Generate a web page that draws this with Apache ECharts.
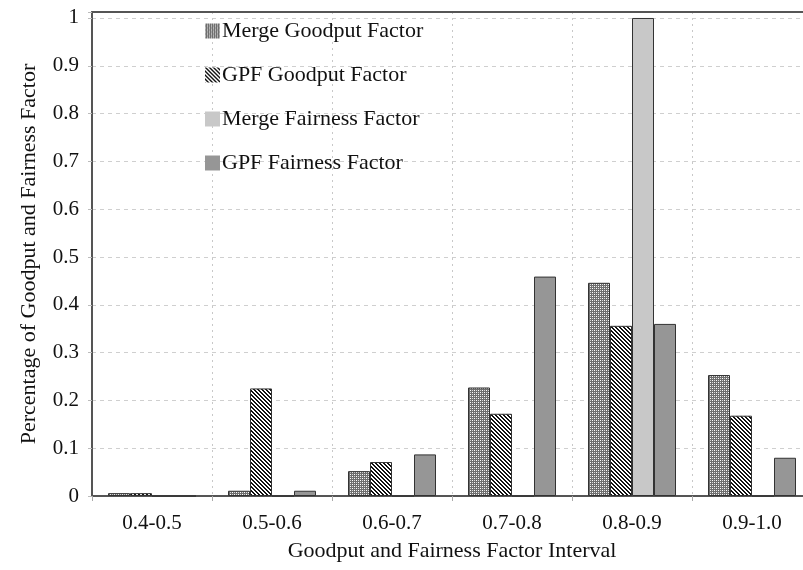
<!DOCTYPE html>
<html>
<head>
<meta charset="utf-8">
<script src="https://cdn.jsdelivr.net/npm/echarts@6/dist/echarts.min.js"></script>
<style>
  html, body { margin: 0; padding: 0; background: #fff; }
  #main { width: 803px; height: 570px; }
</style>
</head>
<body>
<div id="main"></div>
<script>
// 区间
var categories = ['0.4-0.5', '0.5-0.6', '0.6-0.7', '0.7-0.8', '0.8-0.9', '0.9-1.0'];
var mergeGoodput = [0.006, 0.011, 0.052, 0.227, 0.446, 0.253];
var gpfGoodput = [0.006, 0.225, 0.071, 0.172, 0.356, 0.168];
var mergeFairness = [0, 0, 0, 0, 1.0, 0];
var gpfFairness = [0, 0.011, 0.087, 0.459, 0.36, 0.080];
var seriesNames = ['Merge Goodput Factor', 'GPF Goodput Factor', 'Merge Fairness Factor', 'GPF Fairness Factor'];

var fontFamily = '"Liberation Serif", "DejaVu Serif", serif';

// 网格点纹理
function checkPattern() {
  var c = document.createElement('canvas');
  c.width = 4; c.height = 4;
  var ctx = c.getContext('2d');
  ctx.fillStyle = '#6e6e6e';
  ctx.fillRect(0, 0, 4, 4);
  ctx.fillStyle = '#ffffff';
  ctx.fillRect(0, 0, 1, 1);
  ctx.fillRect(2, 2, 1, 1);
  ctx.fillStyle = '#d8d8d8';
  ctx.fillRect(2, 0, 1, 1);
  ctx.fillRect(0, 2, 1, 1);
  return c;
}

// 斜线纹理
function stripePattern() {
  var c = document.createElement('canvas');
  c.width = 4; c.height = 4;
  var ctx = c.getContext('2d');
  ctx.fillStyle = '#ffffff';
  ctx.fillRect(0, 0, 4, 4);
  ctx.fillStyle = '#111111';
  for (var y = 0; y < 4; y++) {
    for (var x = 0; x < 4; x++) {
      var d = ((x - y) % 4 + 4) % 4;
      if (d === 0 || d === 1) ctx.fillRect(x, y, 1, 1);
    }
  }
  return c;
}

var chart = echarts.init(document.getElementById('main'));

var borderStyle = { borderColor: '#333', borderWidth: 1 };

chart.setOption({
  animation: false,
  textStyle: { fontFamily: fontFamily },
  grid: {
    left: 92,
    width: 720, // 右侧被裁掉一截
    top: 12,
    bottom: 74,
    outerBoundsMode: 'none'
  },
  legend: {
    orient: 'vertical',
    left: 200,
    top: 15,
    itemGap: 22,
    itemWidth: 15,
    itemHeight: 15,
    icon: 'rect',
    itemStyle: { borderWidth: 0 },
    textStyle: {
      fontFamily: fontFamily,
      fontSize: 22,
      color: '#111',
      padding: [0, 0, 0, -3]
    },
    data: seriesNames
  },
  xAxis: [
    {
      type: 'category',
      data: categories,
      name: 'Goodput and Fairness Factor Interval',
      nameLocation: 'middle',
      nameGap: 44,
      nameTextStyle: { fontFamily: fontFamily, fontSize: 22, color: '#111' },
      axisLine: { lineStyle: { color: '#555', width: 2 } },
      axisTick: { show: true, length: 5, lineStyle: { color: '#aaa' } },
      axisLabel: { fontFamily: fontFamily, fontSize: 21, color: '#111', margin: 17 },
      splitLine: {
        show: true,
        lineStyle: { type: [2, 4], color: '#c8c8c8' }
      }
    },
    {
      // 顶部边框线
      type: 'category',
      position: 'top',
      data: categories,
      axisLine: { lineStyle: { color: '#555', width: 2 } },
      axisTick: { show: false },
      axisLabel: { show: false }
    }
  ],
  yAxis: {
    type: 'value',
    min: 0,
    max: 1.0125,
    interval: 0.1,
    name: 'Percentage of Goodput and Fairness Factor',
    nameLocation: 'middle',
    nameGap: 52,
    nameTextStyle: { fontFamily: fontFamily, fontSize: 22, color: '#111' },
    axisLine: { show: true, lineStyle: { color: '#555', width: 2 } },
    axisTick: { show: true, length: 4, lineStyle: { color: '#bbb' } },
    axisLabel: {
      fontFamily: fontFamily,
      fontSize: 21,
      color: '#111',
      margin: 13,
      formatter: function (v) {
        if (v > 1.001) return '';
        return +v.toFixed(1) + '';
      }
    },
    splitLine: {
      show: true,
      lineStyle: { type: [4, 4], color: '#cfcfcf' }
    }
  },
  series: [
    {
      name: seriesNames[0],
      type: 'bar',
      barWidth: 22,
      barGap: '0%',
      itemStyle: Object.assign({ color: { image: checkPattern(), repeat: 'repeat' } }, borderStyle),
      data: mergeGoodput
    },
    {
      name: seriesNames[1],
      type: 'bar',
      barWidth: 22,
      barGap: '0%',
      itemStyle: Object.assign({ color: { image: stripePattern(), repeat: 'repeat' } }, borderStyle),
      data: gpfGoodput
    },
    {
      name: seriesNames[2],
      type: 'bar',
      barWidth: 22,
      barGap: '0%',
      itemStyle: Object.assign({ color: '#c8c8c8' }, borderStyle),
      data: mergeFairness
    },
    {
      name: seriesNames[3],
      type: 'bar',
      barWidth: 22,
      barGap: '0%',
      itemStyle: Object.assign({ color: '#969696' }, borderStyle),
      data: gpfFairness
    }
  ]
});
</script>
</body>
</html>
